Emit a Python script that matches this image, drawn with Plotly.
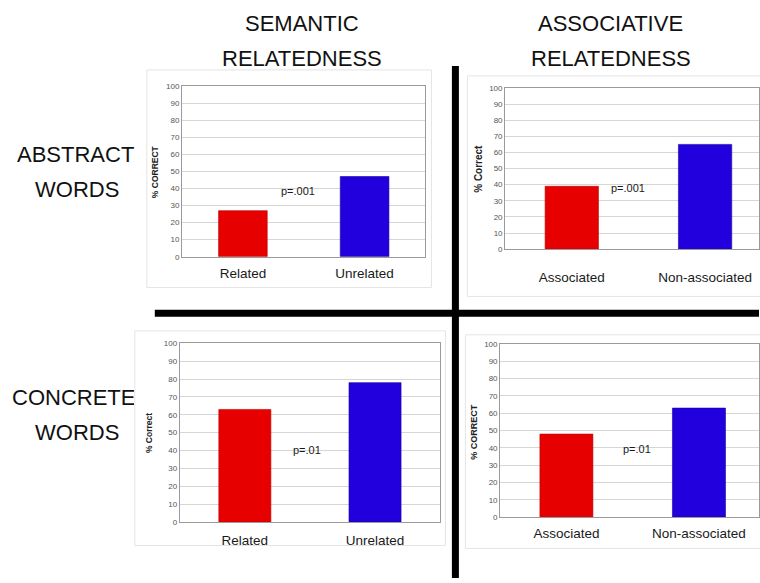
import plotly.graph_objects as go

W, H = 760, 583

# ---- data ----
semantic_cats = ["Related", "Unrelated"]
associative_cats = ["Associated", "Non-associated"]
abstract_semantic = [27, 47]
abstract_associative = [39, 65]
concrete_semantic = [63, 78]
concrete_associative = [48, 63]
p_abstract = "p=.001"
p_concrete = "p=.01"
bar_colors = ["#e60000", "#2200dd"]
ytick_vals = [0, 10, 20, 30, 40, 50, 60, 70, 80, 90, 100]

def px(x):
    return x / W

def py(y):
    return 1 - y / H

FONT = "Liberation Sans, Arial, sans-serif"

fig = go.Figure()

panels = [
    dict(cats=semantic_cats, vals=abstract_semantic, xd=(182.3, 426), yd=(83.3, 256.7), xr=1.5,
         ytitle="% CORRECT", tsize=8.5, tpos=(156, 170), p=p_abstract, ppos=(298, 190), so=4),
    dict(cats=associative_cats, vals=abstract_associative, xd=(505.8, 760), yd=(85.3, 249), xr=1.4045,
         ytitle="% Correct", tsize=10, tpos=(479, 167), p=p_abstract, ppos=(629, 187), so=16),
    dict(cats=semantic_cats, vals=concrete_semantic, xd=(180, 440.7), yd=(344.7, 526), xr=1.5,
         ytitle="% Correct", tsize=8.5, tpos=(149, 436), p=p_concrete, ppos=(307, 453), so=6),
    dict(cats=associative_cats, vals=concrete_associative, xd=(500.8, 760), yd=(345.3, 521.3), xr=1.453,
         ytitle="% CORRECT", tsize=9, tpos=(475, 434), p=p_concrete, ppos=(638, 452), so=4),
]

annotations = []
shapes = []

# faint chart boxes
boxes = [(147, 67, 432, 288), (468, 73, 762, 297), (135, 332, 446, 550), (466, 336, 762, 553)]
for (x0, y0, x1, y1) in boxes:
    shapes.append(dict(type="rect", xref="paper", yref="paper",
                       x0=px(x0), y0=py(y1), x1=px(x1), y1=py(y0),
                       line=dict(color="#e4e4e4", width=1), fillcolor="rgba(0,0,0,0)", layer="below"))

for i, p in enumerate(panels, start=1):
    xa = "x" if i == 1 else f"x{i}"
    ya = "y" if i == 1 else f"y{i}"
    fig.add_trace(go.Bar(
        x=p["cats"], y=p["vals"], xaxis=xa, yaxis=ya,
        marker=dict(color=bar_colors, line=dict(color=["#c00000", "#1500a0"], width=0.6)),
        width=0.4, showlegend=False, hoverinfo="x+y",
    ))
    xkey = "xaxis" if i == 1 else f"xaxis{i}"
    ykey = "yaxis" if i == 1 else f"yaxis{i}"
    fig.update_layout({
        xkey: dict(domain=[px(p["xd"][0]), px(p["xd"][1])], anchor=ya,
                   range=[-0.5, p["xr"]], showgrid=False, showline=True, linecolor="#9a9a9a",
                   linewidth=1, mirror=True, ticks="", ticklabelstandoff=p["so"],
                   tickfont=dict(family=FONT, size=13.5, color="#1a1a1a"), fixedrange=True),
        ykey: dict(domain=[py(p["yd"][1]), py(p["yd"][0])], anchor=xa,
                   range=[0, 100], tickvals=ytick_vals, showgrid=True, gridcolor="#d6d6d6",
                   gridwidth=1, zeroline=False, showline=True, linecolor="#9a9a9a", mirror=True,
                   ticks="", tickfont=dict(family=FONT, size=8, color="#555555"), fixedrange=True),
    })
    annotations.append(dict(text=f"<b>{p['ytitle']}</b>", x=px(p["tpos"][0]), y=py(p["tpos"][1]),
                            xref="paper", yref="paper", xanchor="center", yanchor="middle",
                            showarrow=False, textangle=-90,
                            font=dict(family=FONT, size=p["tsize"], color="#222222")))
    annotations.append(dict(text=p["p"], x=px(p["ppos"][0]), y=py(p["ppos"][1]),
                            xref="paper", yref="paper", xanchor="center", yanchor="middle",
                            showarrow=False, font=dict(family=FONT, size=11, color="#1a1a1a")))

# headers
big = dict(family=FONT, size=22, color="#111111")
for txt, x, y in [("SEMANTIC", 302, 20), ("RELATEDNESS", 302, 55),
                  ("ASSOCIATIVE", 611, 20), ("RELATEDNESS", 612, 55),
                  ("ABSTRACT", 76, 153), ("WORDS", 77, 188), ("WORDS", 77, 435)]:
    annotations.append(dict(text=txt, x=px(x), y=py(y), xref="paper", yref="paper",
                            xanchor="center", yanchor="middle", showarrow=False, font=big))
# clipped CONCRETE label
annotations.append(dict(text="CONCRETE", x=px(11), y=py(400), xref="paper", yref="paper",
                        xanchor="left", yanchor="middle", showarrow=False, font=big,
                        width=122, align="left", borderpad=0))

# thick dividers
shapes.append(dict(type="line", xref="paper", yref="paper", x0=px(456), x1=px(456),
                   y0=py(63), y1=py(583), line=dict(color="black", width=7), layer="above"))
shapes.append(dict(type="line", xref="paper", yref="paper", x0=px(155), x1=px(760),
                   y0=py(314), y1=py(314), line=dict(color="black", width=7), layer="above"))

fig.update_layout(width=W, height=H, margin=dict(l=0, r=0, t=0, b=0),
                  paper_bgcolor="white", plot_bgcolor="white",
                  annotations=annotations, shapes=shapes, bargap=0.6)

fig.write_html("out.html", config={"displayModeBar": False},
               post_script="document.body.style.margin='0px';document.body.style.overflow='hidden';")
